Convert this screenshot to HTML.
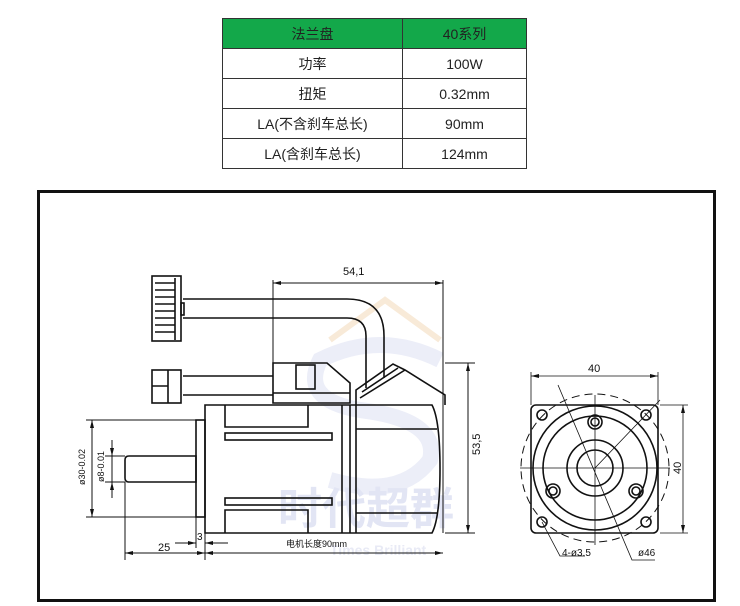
<!DOCTYPE html>
<html><head><meta charset="utf-8"><style>
body{margin:0;width:740px;height:606px;background:#fff;overflow:hidden;font-family:"Liberation Sans","Noto Sans CJK SC",sans-serif}
table{position:absolute;left:222px;top:18px;border-collapse:collapse;font-size:14px;color:#222}
td{border:1px solid #333;height:29px;text-align:center;padding:0}
</style></head><body>
<table>
<tr style="background:#13a84a"><td style="width:179px">法兰盘</td><td style="width:123px">40系列</td></tr>
<tr><td>功率</td><td>100W</td></tr>
<tr><td>扭矩</td><td>0.32mm</td></tr>
<tr><td>LA(不含刹车总长)</td><td>90mm</td></tr>
<tr><td>LA(含刹车总长)</td><td>124mm</td></tr>
</table>
<svg width="740" height="606" style="position:absolute;left:0;top:0" font-family="Liberation Sans, Noto Sans CJK SC, sans-serif">
<rect x="38.5" y="191.5" width="676" height="409" fill="none" stroke="#111" stroke-width="3"/>
<!-- watermark -->
<path d="M330 340 L385 300 L440 340" fill="none" stroke="#f8ead8" stroke-width="6"/>
<path d="M440 360 Q380 330 320 360 Q300 400 360 410 Q440 420 430 460 Q400 500 330 480" fill="none" stroke="#eceef8" stroke-width="16"/>
<text x="278" y="524" font-size="44" font-weight="bold" fill="#e2e5f4">时代超群</text>
<text x="330" y="555" font-size="14" font-weight="bold" fill="#e8eaf5">Times Brilliant</text>
<g fill="none" stroke="#111" stroke-width="1.6">
<!-- knurled connector -->
<rect x="152" y="276" width="29" height="65"/>
<path d="M155 283h20M155 290h20M155 297h20M155 304h20M155 311h20M155 318h20M155 325h20M155 332h20M175 278v62"/>
<path d="M183 299H347Q384 299 384 336V378M183 318H347Q366 318 366 336V388"/>
<rect x="181" y="303" width="3" height="12"/>
<!-- small connector -->
<rect x="152" y="370" width="29" height="33"/>
<path d="M168 370v33M152 386h16M183 376H273M183 395H273"/>
<!-- connector box -->
<path d="M273 403V363H327L350 383V403Z"/>
<rect x="296" y="365" width="19" height="24"/>
<path d="M273 393H350"/>
<!-- brake roof -->
<path d="M356 405V390L393 364L405 370L445 395V405"/>
<path d="M362 392L398 368M405 370L360 398"/>
<!-- body -->
<path d="M205 405H432Q440 420 440 469Q440 518 432 533H205Z"/>
<rect x="196" y="420" width="9" height="97"/>
<path d="M125 460Q125 456 129 456H196V482H129Q125 482 125 478Z"/>
<path d="M342 405V533M350 405V533M356 405V533"/>
<path d="M225 405V427H308V405M225 533V510H308V533"/>
<rect x="225" y="433" width="107" height="7"/>
<rect x="225" y="498" width="107" height="7"/>
<path d="M356 429H437M356 513H437"/>
</g>
<g fill="none" stroke="#111" stroke-width="1">
<path d="M273 363V280M443 533V280M273 283H443M445 363H475M445 533H475M468 363V533"/>
<path d="M196 420H86M196 517H86M92 420V517M112 440V498M125 456H105M125 482H105"/>
<path d="M125 482V560M205 533V560M196 517V548M125 553H205M205 553H443M175 543H196M205 543H228"/>
</g>
<g fill="#111">
<path d="M273 283l8-2v4zM443 283l-8-2v4zM468 363l-2 8h4zM468 533l-2-8h4zM92 420l-2 8h4zM92 517l-2-8h4zM112 456l-2-8h4zM112 482l-2 8h4zM125 553l8-2v4zM205 553l-8-2v4zM205 553l8-2v4zM443 553l-8-2v4zM196 543l-8-2v4zM205 543l8-2v4z"/>
</g>
<text x="343" y="275" font-size="11" fill="#111">54,1</text>
<text x="0" y="0" font-size="11" fill="#111" transform="translate(480,455) rotate(-90)">53,5</text>
<text x="0" y="0" font-size="9" fill="#111" transform="translate(85,485) rotate(-90)">ø30-0.02</text>
<text x="0" y="0" font-size="9" fill="#111" transform="translate(104,482) rotate(-90)">ø8-0.01</text>
<text x="158" y="551" font-size="11" fill="#111">25</text>
<text x="197" y="540" font-size="10" fill="#111">3</text>
<text x="286" y="547" font-size="9" fill="#111">电机长度90mm</text>
<!-- end view -->
<g fill="none" stroke="#111" stroke-width="1.6">
<rect x="531" y="405" width="127" height="128" rx="5"/>
<circle cx="595" cy="468" r="62"/><circle cx="595" cy="468" r="52"/>
<circle cx="595" cy="468" r="28"/><circle cx="595" cy="468" r="18"/>
<circle cx="542" cy="415" r="5"/><circle cx="646" cy="415" r="5"/>
<circle cx="542" cy="522" r="5"/><circle cx="646" cy="522" r="5"/>
<circle cx="595" cy="422" r="7"/><circle cx="595" cy="422" r="4"/>
<circle cx="553" cy="491" r="7"/><circle cx="553" cy="491" r="4"/>
<circle cx="636" cy="491" r="7"/><circle cx="636" cy="491" r="4"/>
</g>
<circle cx="595" cy="468" r="74" fill="none" stroke="#111" stroke-dasharray="8,5"/>
<g fill="none" stroke="#111" stroke-width="0.8">
<path d="M520 468H670M595 395V545M558 385L632 560H655M595 468L660 400M542 522L560 556H585"/>
<path d="M531 405V372M658 405V372M531 376H658M660 405H688M660 533H688M683 405V533"/>
</g>
<g fill="#111"><path d="M531 376l8-2v4zM658 376l-8-2v4zM683 405l-2 8h4zM683 533l-2-8h4z"/></g>
<text x="588" y="372" font-size="11" fill="#111">40</text>
<text x="0" y="0" font-size="11" fill="#111" transform="translate(681,474) rotate(-90)">40</text>
<text x="562" y="556" font-size="10" fill="#111">4-ø3.5</text>
<text x="638" y="556" font-size="10" fill="#111">ø46</text>
</svg>
</body></html>
